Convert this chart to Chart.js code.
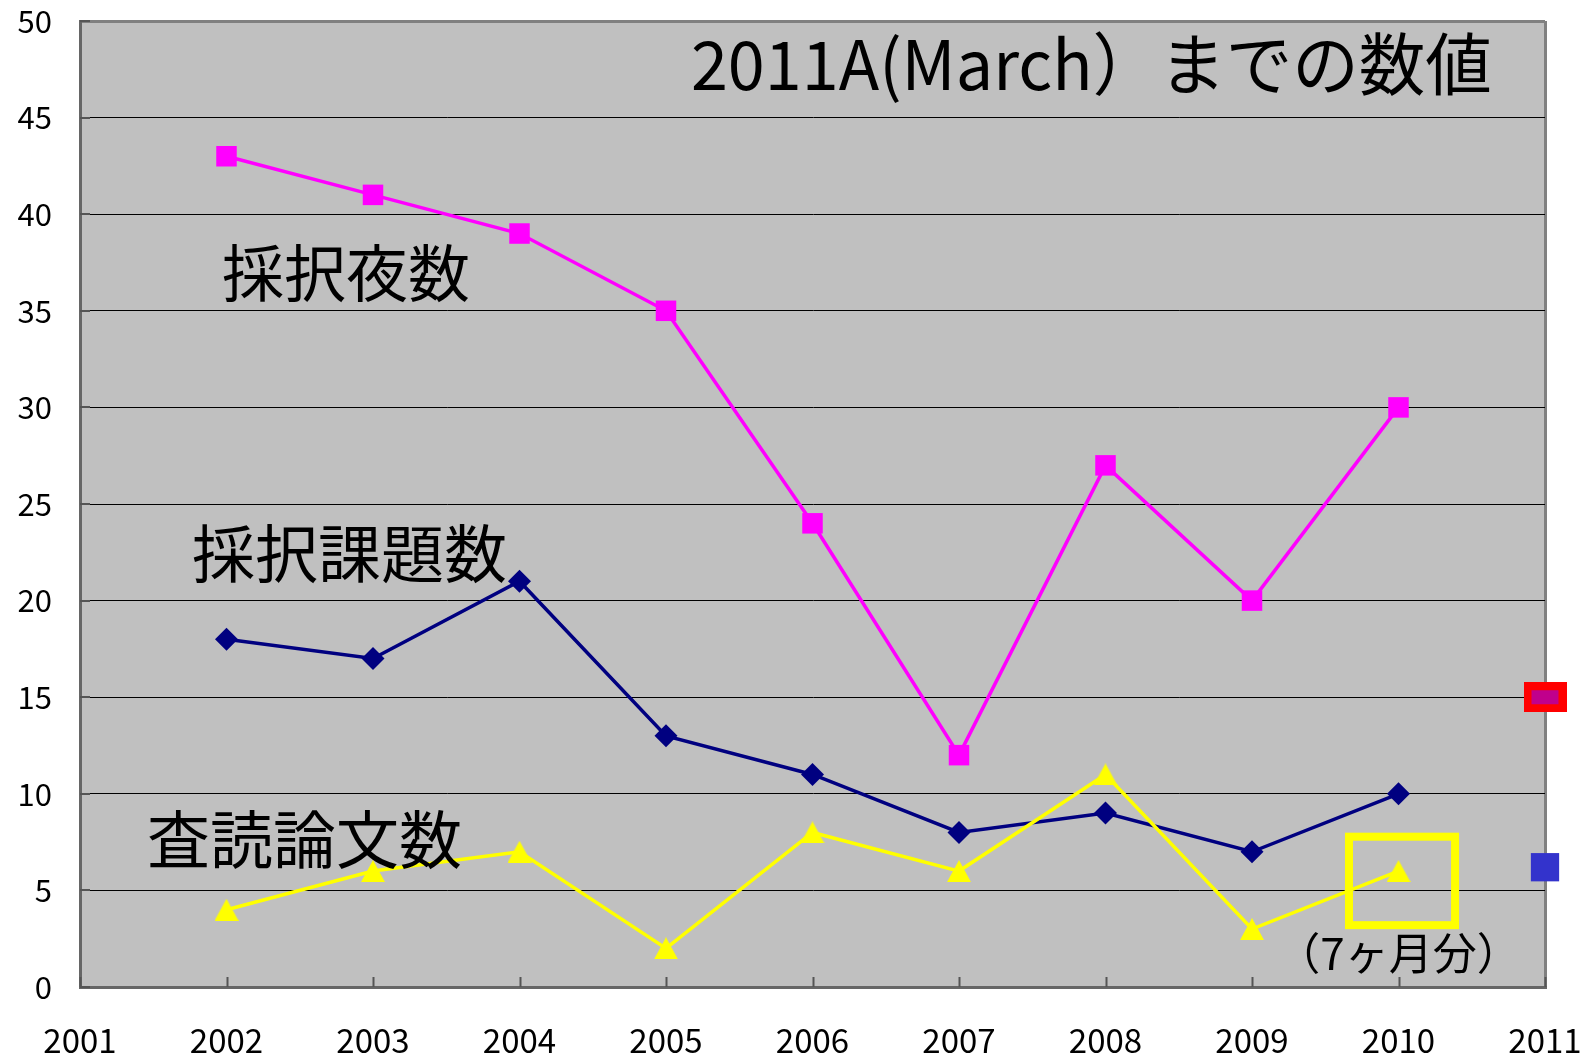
<!DOCTYPE html>
<html><head><meta charset="utf-8">
<script src="https://cdn.jsdelivr.net/npm/chart.js@4/dist/chart.umd.min.js"></script>
<style>html,body{margin:0;padding:0;background:#fff;}#wrap{width:1586px;height:1057px;}</style>
</head><body><div id="wrap"><canvas id="c" width="1586" height="1057"></canvas></div>
<script>
// ---- data ----
const years = [2002, 2003, 2004, 2005, 2006, 2007, 2008, 2009, 2010];
const nights = [43, 41, 39, 35, 24, 12, 27, 20, 30];        // 採択夜数
const proposals = [18, 17, 21, 13, 11, 8, 9, 7, 10];        // 採択課題数
const papers = [4, 6, 7, 2, 8, 6, 11, 3, 6];                // 査読論文数
const extraYear = [2011];
const extraNights = [15];
const extraBlue = [6.2];
const xTickLabels = [2001, 2002, 2003, 2004, 2005, 2006, 2007, 2008, 2009, 2010, 2011];
const yTickLabels = [0, 5, 10, 15, 20, 25, 30, 35, 40, 45, 50];

const FONT = "'Noto Sans CJK JP', 'Noto Sans', sans-serif";

// annotations (placed in data coordinates)
const notes = [
  {text: '2011A(March）までの数値', x: 2005.17, y: 47.75, size: 68, align: 'left', fitWidth: 801},
  {text: '採択夜数', x: 2001.97, y: 36.93, size: 62, align: 'left'},
  {text: '採択課題数', x: 2001.765, y: 22.45, size: 63, align: 'left'},
  {text: '査読論文数', x: 2001.457, y: 7.68, size: 63, align: 'left'},
  {text: '（7ヶ月分）', x: 2010.0, y: 1.75, size: 44, align: 'center'}
];
const highlightBox = {x0: 2009.662, x1: 2010.386, y0: 3.2, y1: 7.78};

const pts = (xs, ys) => ys.map((v, i) => ({x: xs[i], y: v}));

// custom markers
const redMarker = document.createElement('canvas');
redMarker.width = 43; redMarker.height = 30;
(function(){ const c = redMarker.getContext('2d');
  c.fillStyle = '#FF0000'; c.fillRect(0, 0, 43, 30);
  c.fillStyle = '#C0008C'; c.fillRect(8, 8, 27, 14); })();
const triMarker = document.createElement('canvas');
triMarker.width = 24; triMarker.height = 22;
(function(){ const c = triMarker.getContext('2d');
  c.fillStyle = '#FFFF00'; c.beginPath(); c.moveTo(12, 0); c.lineTo(24, 22); c.lineTo(0, 22); c.closePath(); c.fill(); })();

const plotBg = {
  id: 'plotBg',
  beforeDraw(chart) {
    const {ctx, chartArea: a} = chart;
    ctx.save(); ctx.fillStyle = '#C0C0C0';
    ctx.fillRect(a.left, a.top, a.right - a.left, a.bottom - a.top);
    ctx.restore();
  },
  beforeDatasetsDraw(chart) {
    const {ctx, chartArea: a, scales: {x, y}} = chart;
    ctx.save(); ctx.strokeStyle = '#555'; ctx.lineWidth = 2;
    x.ticks.forEach(t => { const p = Math.round(x.getPixelForValue(t.value)) + 0.5;
      ctx.beginPath(); ctx.moveTo(p, a.bottom); ctx.lineTo(p, a.bottom - 10); ctx.stroke(); });
    y.ticks.forEach(t => { const p = Math.round(y.getPixelForValue(t.value));
      ctx.beginPath(); ctx.moveTo(a.left, p); ctx.lineTo(a.left + 10, p); ctx.stroke(); });
    ctx.restore();
  },
  afterDatasetsDraw(chart) {
    const {ctx, scales: {x, y}} = chart;
    ctx.save();
    ctx.strokeStyle = '#FFFF00'; ctx.lineWidth = 8;
    const bx0 = x.getPixelForValue(highlightBox.x0), bx1 = x.getPixelForValue(highlightBox.x1);
    const by0 = y.getPixelForValue(highlightBox.y1), by1 = y.getPixelForValue(highlightBox.y0);
    ctx.strokeRect(bx0, by0, bx1 - bx0, by1 - by0);
    ctx.fillStyle = '#000'; ctx.textBaseline = 'middle';
    notes.forEach(n => {
      ctx.font = n.size + 'px ' + FONT;
      ctx.textAlign = n.align;
      const px = x.getPixelForValue(n.x), py = y.getPixelForValue(n.y);
      if (n.fitWidth) {
        const w = ctx.measureText(n.text).width;
        ctx.save(); ctx.translate(px, py); ctx.scale(n.fitWidth / w, 1);
        ctx.fillText(n.text, 0, 0); ctx.restore();
      } else {
        ctx.fillText(n.text, px, py);
      }
    });
    ctx.restore();
  }
};

new Chart(document.getElementById('c'), {
  type: 'line',
  data: {
    datasets: [
      {label: '査読論文数', data: pts(years, papers), borderColor: '#FFFF00', backgroundColor: '#FFFF00',
        borderWidth: 3.5, pointStyle: triMarker, pointRadius: 12, tension: 0},
      {label: '採択課題数', data: pts(years, proposals), borderColor: '#000080', backgroundColor: '#000080',
        borderWidth: 3.5, pointStyle: 'rectRot', pointRadius: 11.5, pointBorderWidth: 0, tension: 0},
      {label: '採択夜数', data: pts(years, nights), borderColor: '#FF00FF', backgroundColor: '#FF00FF',
        borderWidth: 3.5, pointStyle: 'rect', pointRadius: 14.5, pointBorderWidth: 0, tension: 0},
      {label: '2011A夜数', data: pts(extraYear, extraNights), showLine: false, pointStyle: redMarker,
        pointRadius: 20, clip: false},
      {label: '2011A', data: pts(extraYear, extraBlue), showLine: false, pointStyle: 'rect',
        backgroundColor: '#3333CC', borderColor: '#3333CC', pointRadius: 20, pointBorderWidth: 0, clip: false}
    ]
  },
  options: {
    responsive: false, animation: false, devicePixelRatio: 1,
    layout: {padding: {top: 17, right: 41, left: 0, bottom: 0}},
    plugins: {legend: {display: false}, tooltip: {enabled: false}},
    scales: {
      x: {
        type: 'linear', min: 2001, max: 2011,
        afterBuildTicks: s => { s.ticks = xTickLabels.map(v => ({value: v})); },
        afterFit: s => { s.height = 70; s.paddingLeft = 0; s.paddingRight = 0; },
        ticks: {callback: v => String(v), color: '#000', padding: 34, maxRotation: 0, autoSkip: false,
          font: {family: FONT, size: 33}},
        grid: {drawTicks: false, lineWidth: 3,
          color: c => (c.tick && c.tick.value === 2011) ? '#808080' : 'rgba(0,0,0,0)'},
        border: {color: '#666', width: 3}
      },
      y: {
        min: 0, max: 50,
        afterBuildTicks: s => { s.ticks = yTickLabels.map(v => ({value: v})); },
        afterFit: s => { s.width = 80; s.paddingTop = 0; s.paddingBottom = 0; },
        ticks: {color: '#000', padding: 28, font: {family: FONT, size: 31}},
        grid: {drawTicks: false,
          color: c => (c.tick && c.tick.value === 50) ? '#808080' : '#000',
          lineWidth: c => (c.tick && c.tick.value === 50) ? 3 : 1},
        border: {color: '#666', width: 3}
      }
    }
  },
  plugins: [plotBg]
});
</script></body></html>
